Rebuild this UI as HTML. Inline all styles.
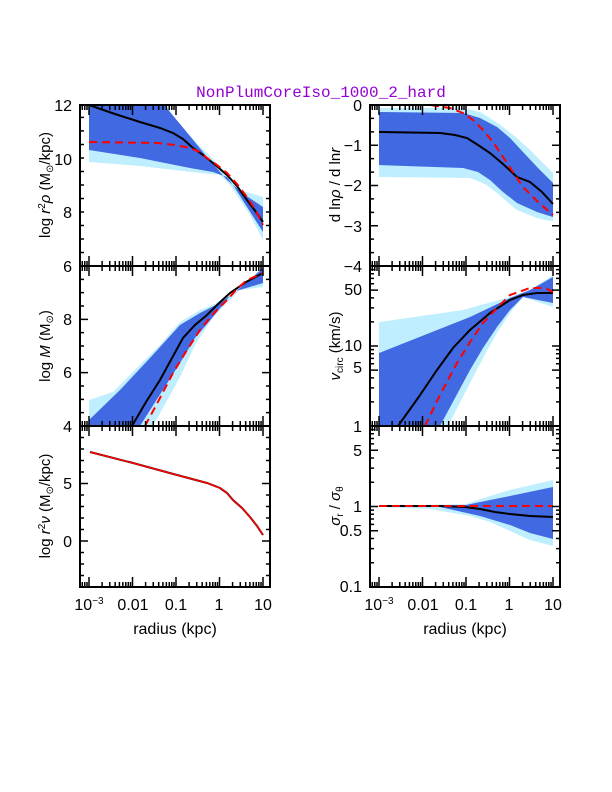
<!DOCTYPE html>
<html><head><meta charset="utf-8"><style>
html,body{margin:0;padding:0;background:#fff}
svg{display:block}
text{font-family:"Liberation Sans",sans-serif;fill:#000}
.t{font-size:16px}
.lab{font-family:"Liberation Serif",serif;font-size:15px}
</style></head><body>
<svg id="s" width="612" height="792" viewBox="0 0 612 792" xmlns="http://www.w3.org/2000/svg">
<text x="321" y="97" text-anchor="middle" style="font-family:'Liberation Mono',monospace;font-size:16px;fill:#9400d3">NonPlumCoreIso_1000_2_hard</text>

<defs>
<clipPath id="c1"><rect x="80" y="105" width="190" height="161"/></clipPath>
<clipPath id="c2"><rect x="370" y="105" width="190" height="161"/></clipPath>
<clipPath id="c3"><rect x="80" y="266" width="190" height="160"/></clipPath>
<clipPath id="c4"><rect x="370" y="266" width="190" height="160"/></clipPath>
<clipPath id="c6"><rect x="370" y="426" width="190" height="161"/></clipPath>
</defs>

<!-- Panel 1 -->
<g clip-path="url(#c1)">
<polygon fill="#bfefff" points="89,100 163,100 177,122 200,146 217,163 230,178 240,190 263,197 263,240 250,215 240,200 230,185 220,175 200,173 140,166 89,162"/>
<polygon fill="#4169e1" points="89,100 160,100 185,130 207,157 227,180 245,195 263,207 263,232 247,207 235,188 227,177 213,172 190,168 140,158 89,150"/>
<polyline fill="none" stroke="#000" stroke-width="2" points="89,105 115,114 140,122 160,128 173,133 183,139 193,148 203,155 213,163 227,175 237,186 247,200 256,212 263,222"/>
<polyline fill="none" stroke="#f00" stroke-width="2" stroke-dasharray="8,5" points="89,142 157,143 175,145 190,148 200,152 207,158 217,165 227,173 237,184 247,197 256,211 263,225"/>
</g>
<!-- Panel 2 -->
<g clip-path="url(#c2)">
<polygon fill="#bfefff" points="379,108 463,108 480,112 490,118 503,127 517,138 530,150 542,162 553,173 553,221 545,220 537,218 517,210 505,200 497,193 485,184 470,178 379,177"/>
<polygon fill="#4169e1" points="379,112 463,113 480,118 497,127 510,138 523,152 538,168 553,183 553,217 537,212 517,203 503,192 490,180 478,172 463,168 379,165"/>
<polyline fill="none" stroke="#000" stroke-width="2" points="379,132 440,133 455,135 467,138 478,145 490,153 503,164 517,177 530,182 542,192 553,204"/>
<polyline fill="none" stroke="#f00" stroke-width="2" stroke-dasharray="8,5" points="379,105 430,105 450,108 463,113 473,120 483,130 493,142 503,157 513,172 523,187 538,202 553,215"/>
</g>
<!-- Panel 3 -->
<g clip-path="url(#c3)">
<polygon fill="#bfefff" points="89,400 113,392 140,365 160,345 180,322 200,310 217,303 240,290 263,267 263,287 240,290 213,317 195,345 180,377 153,426 89,426"/>
<polygon fill="#4169e1" points="89,420 120,390 150,358 180,325 200,313 220,303 240,288 263,268 263,283 233,292 213,317 195,338 180,363 140,426 89,426"/>
<polyline fill="none" stroke="#000" stroke-width="2" points="132,426 146,402 160,380 172,358 183,338 195,325 207,315 218,304 230,293 246,282 263,273"/>
<polyline fill="none" stroke="#f00" stroke-width="2" stroke-dasharray="8,5" points="145,426 160,398 173,373 187,350 200,330 213,314 227,300 237,289 247,280 263,273"/>
</g>
<!-- Panel 4 -->
<g clip-path="url(#c4)">
<polygon fill="#bfefff" points="379,322 463,310 510,297 530,290 553,275 553,307 523,297 510,313 497,333 483,358 470,383 448,426 379,426"/>
<polygon fill="#4169e1" points="379,353 470,317 510,298 530,290 553,277 553,303 523,297 510,310 497,327 483,348 470,370 440,426 379,426"/>
<polyline fill="none" stroke="#000" stroke-width="2" points="398,426 418,398 437,370 453,348 470,330 490,313 510,300 523,295 537,293 553,293"/>
<polyline fill="none" stroke="#f00" stroke-width="2" stroke-dasharray="8,5" points="425,426 441,393 457,363 470,342 483,323 497,308 510,295 530,288 545,288 553,292"/>
</g>
<!-- Panel 5 -->
<polyline fill="none" stroke="#000" stroke-width="2" points="90,452 133,463 177,475 207,483 220,488 227,493 233,500 242,508 250,517 257,526 263,535"/>
<polyline fill="none" stroke="#f00" stroke-width="1.5" points="90,452 133,463 177,475 207,483 220,488 227,493 233,500 242,508 250,517 257,526 263,535"/>
<!-- Panel 6 -->
<g clip-path="url(#c6)">
<polygon fill="#bfefff" points="379,506 466,504 490,496 510,490 553,480 553,546 530,540 510,531 490,522 470,516 430,509 379,507"/>
<polygon fill="#4169e1" points="379,506 466,505 490,500 510,496 553,487 553,539 530,533 510,525 480,516 440,507 379,507"/>
<polyline fill="none" stroke="#000" stroke-width="2" points="379,506 440,506 465,507 480,509 495,512 510,514 530,516 553,517"/>
<polyline fill="none" stroke="#f00" stroke-width="2" stroke-dasharray="8,5" points="379,506 553,506"/>
</g>

<g id="ticks" stroke="#000" fill="none"></g>

<!-- frames -->
<g fill="none" stroke="#000" stroke-width="2">
<rect x="80" y="105" width="190" height="482"/>
<rect x="370" y="105" width="190" height="482"/>
<line x1="80" y1="266" x2="270" y2="266"/><line x1="80" y1="426" x2="270" y2="426"/>
<line x1="370" y1="266" x2="560" y2="266"/><line x1="370" y1="426" x2="560" y2="426"/>
</g>

<g class="t" text-anchor="end">
<text x="72" y="111">12</text><text x="72" y="165">10</text><text x="72" y="218">8</text><text x="72" y="272">6</text>
<text x="72" y="325">8</text><text x="72" y="378">6</text><text x="72" y="432">4</text>
<text x="72" y="489">5</text><text x="72" y="547">0</text>
<text x="362" y="111">0</text><text x="362" y="151">−1</text><text x="362" y="191">−2</text><text x="362" y="232">−3</text><text x="362" y="272">−4</text>
<text x="362" y="295">50</text><text x="362" y="351">10</text><text x="362" y="373">5</text><text x="362" y="432">1</text>
<text x="362" y="456">5</text><text x="362" y="512">1</text><text x="362" y="536">0.5</text><text x="362" y="592">0.1</text>
</g>
<g class="t" text-anchor="middle">
<text x="89" y="610">10<tspan font-size="10" dy="-6">−3</tspan></text><text x="133" y="610">0.01</text><text x="176" y="610">0.1</text><text x="219" y="610">1</text><text x="263" y="610">10</text>
<text x="379" y="610">10<tspan font-size="10" dy="-6">−3</tspan></text><text x="423" y="610">0.01</text><text x="466" y="610">0.1</text><text x="509" y="610">1</text><text x="553" y="610">10</text>
</g>
<g class="lab" text-anchor="middle">
<text x="175" y="634" font-size="16">radius (kpc)</text><text x="465" y="634" font-size="16">radius (kpc)</text>
<text transform="translate(50,185) rotate(-90)">log <tspan font-style="italic">r</tspan><tspan font-size="10" dy="-5">2</tspan><tspan dy="5" font-style="italic">ρ</tspan> (M<tspan font-size="10" dy="3">⊙</tspan><tspan dy="-3">/kpc)</tspan></text>
<text transform="translate(50,346) rotate(-90)">log <tspan font-style="italic">M</tspan> (M<tspan font-size="10" dy="3">⊙</tspan><tspan dy="-3">)</tspan></text>
<text transform="translate(50,506) rotate(-90)">log <tspan font-style="italic">r</tspan><tspan font-size="10" dy="-5">2</tspan><tspan dy="5" font-style="italic">ν</tspan> (M<tspan font-size="10" dy="3">⊙</tspan><tspan dy="-3">/kpc)</tspan></text>
<text transform="translate(340,185) rotate(-90)">d ln<tspan font-style="italic">ρ</tspan> / d ln<tspan font-style="italic">r</tspan></text>
<text transform="translate(340,346) rotate(-90)"><tspan font-style="italic">v</tspan><tspan font-size="10" dy="3">circ</tspan><tspan dy="-3"> (km/s)</tspan></text>
<text transform="translate(340,506) rotate(-90)"><tspan font-style="italic">σ</tspan><tspan font-size="10" dy="3">r</tspan><tspan dy="-3"> / </tspan><tspan font-style="italic">σ</tspan><tspan font-size="10" dy="3">θ</tspan></text>
</g>
</svg>
<script>
(function(){
var g=document.getElementById('ticks'),d='';
function L(x1,y1,x2,y2){d+='M'+x1+' '+y1+'L'+x2+' '+y2;}
var rows=[[105,266],[266,426],[426,587]];
[[80,270,89],[370,560,379]].forEach(function(p){
 rows.forEach(function(r){
  for(var dec=-4;dec<=1;dec++){for(var m=1;m<10;m++){
   var x=p[2]+43.5*(dec+3+Math.log10(m));
   if(x<=p[0]+1||x>=p[1]-1)continue;
   var len=m==1?10:5;
   L(x,r[0],x,r[0]+len);L(x,r[1],x,r[1]-len);
  }}
 });
});
function lin(x0,x1,top,bot,vt,vb,maj,mn){
 var s=(bot-top)/(vt-vb);
 for(var v=vb;v<=vt+1e-6;v+=mn){
  var y=top+(vt-v)*s,isM=Math.abs(v/maj-Math.round(v/maj))<1e-6,len=isM?8:4;
  L(x0,y,x0+len,y);L(x1,y,x1-len,y);
 }
}
function lg(x0,x1,top,bot,lt,lb){
 var s=(bot-top)/(lt-lb);
 for(var e=Math.floor(lb);e<lt;e++)for(var m=1;m<10;m++){
  var v=e+Math.log10(m);if(v<lb||v>lt)continue;
  var y=top+(lt-v)*s,len=(m==1||m==5)?8:4;
  L(x0,y,x0+len,y);L(x1,y,x1-len,y);
 }
}
lin(80,270,105,266,12,6.04,2,0.5);
lin(80,270,266,426,10,4,2,0.5);
lin(80,270,426,587,10,-4,5,1);
lin(370,560,105,266,0,-4,1,1/3);
lg(370,560,266,426,2,0);
lg(370,560,426,587,1,-1);
var p=document.createElementNS('http://www.w3.org/2000/svg','path');
p.setAttribute('d',d);p.setAttribute('stroke-width','1.5');g.appendChild(p);
})();
</script>
</body></html>
